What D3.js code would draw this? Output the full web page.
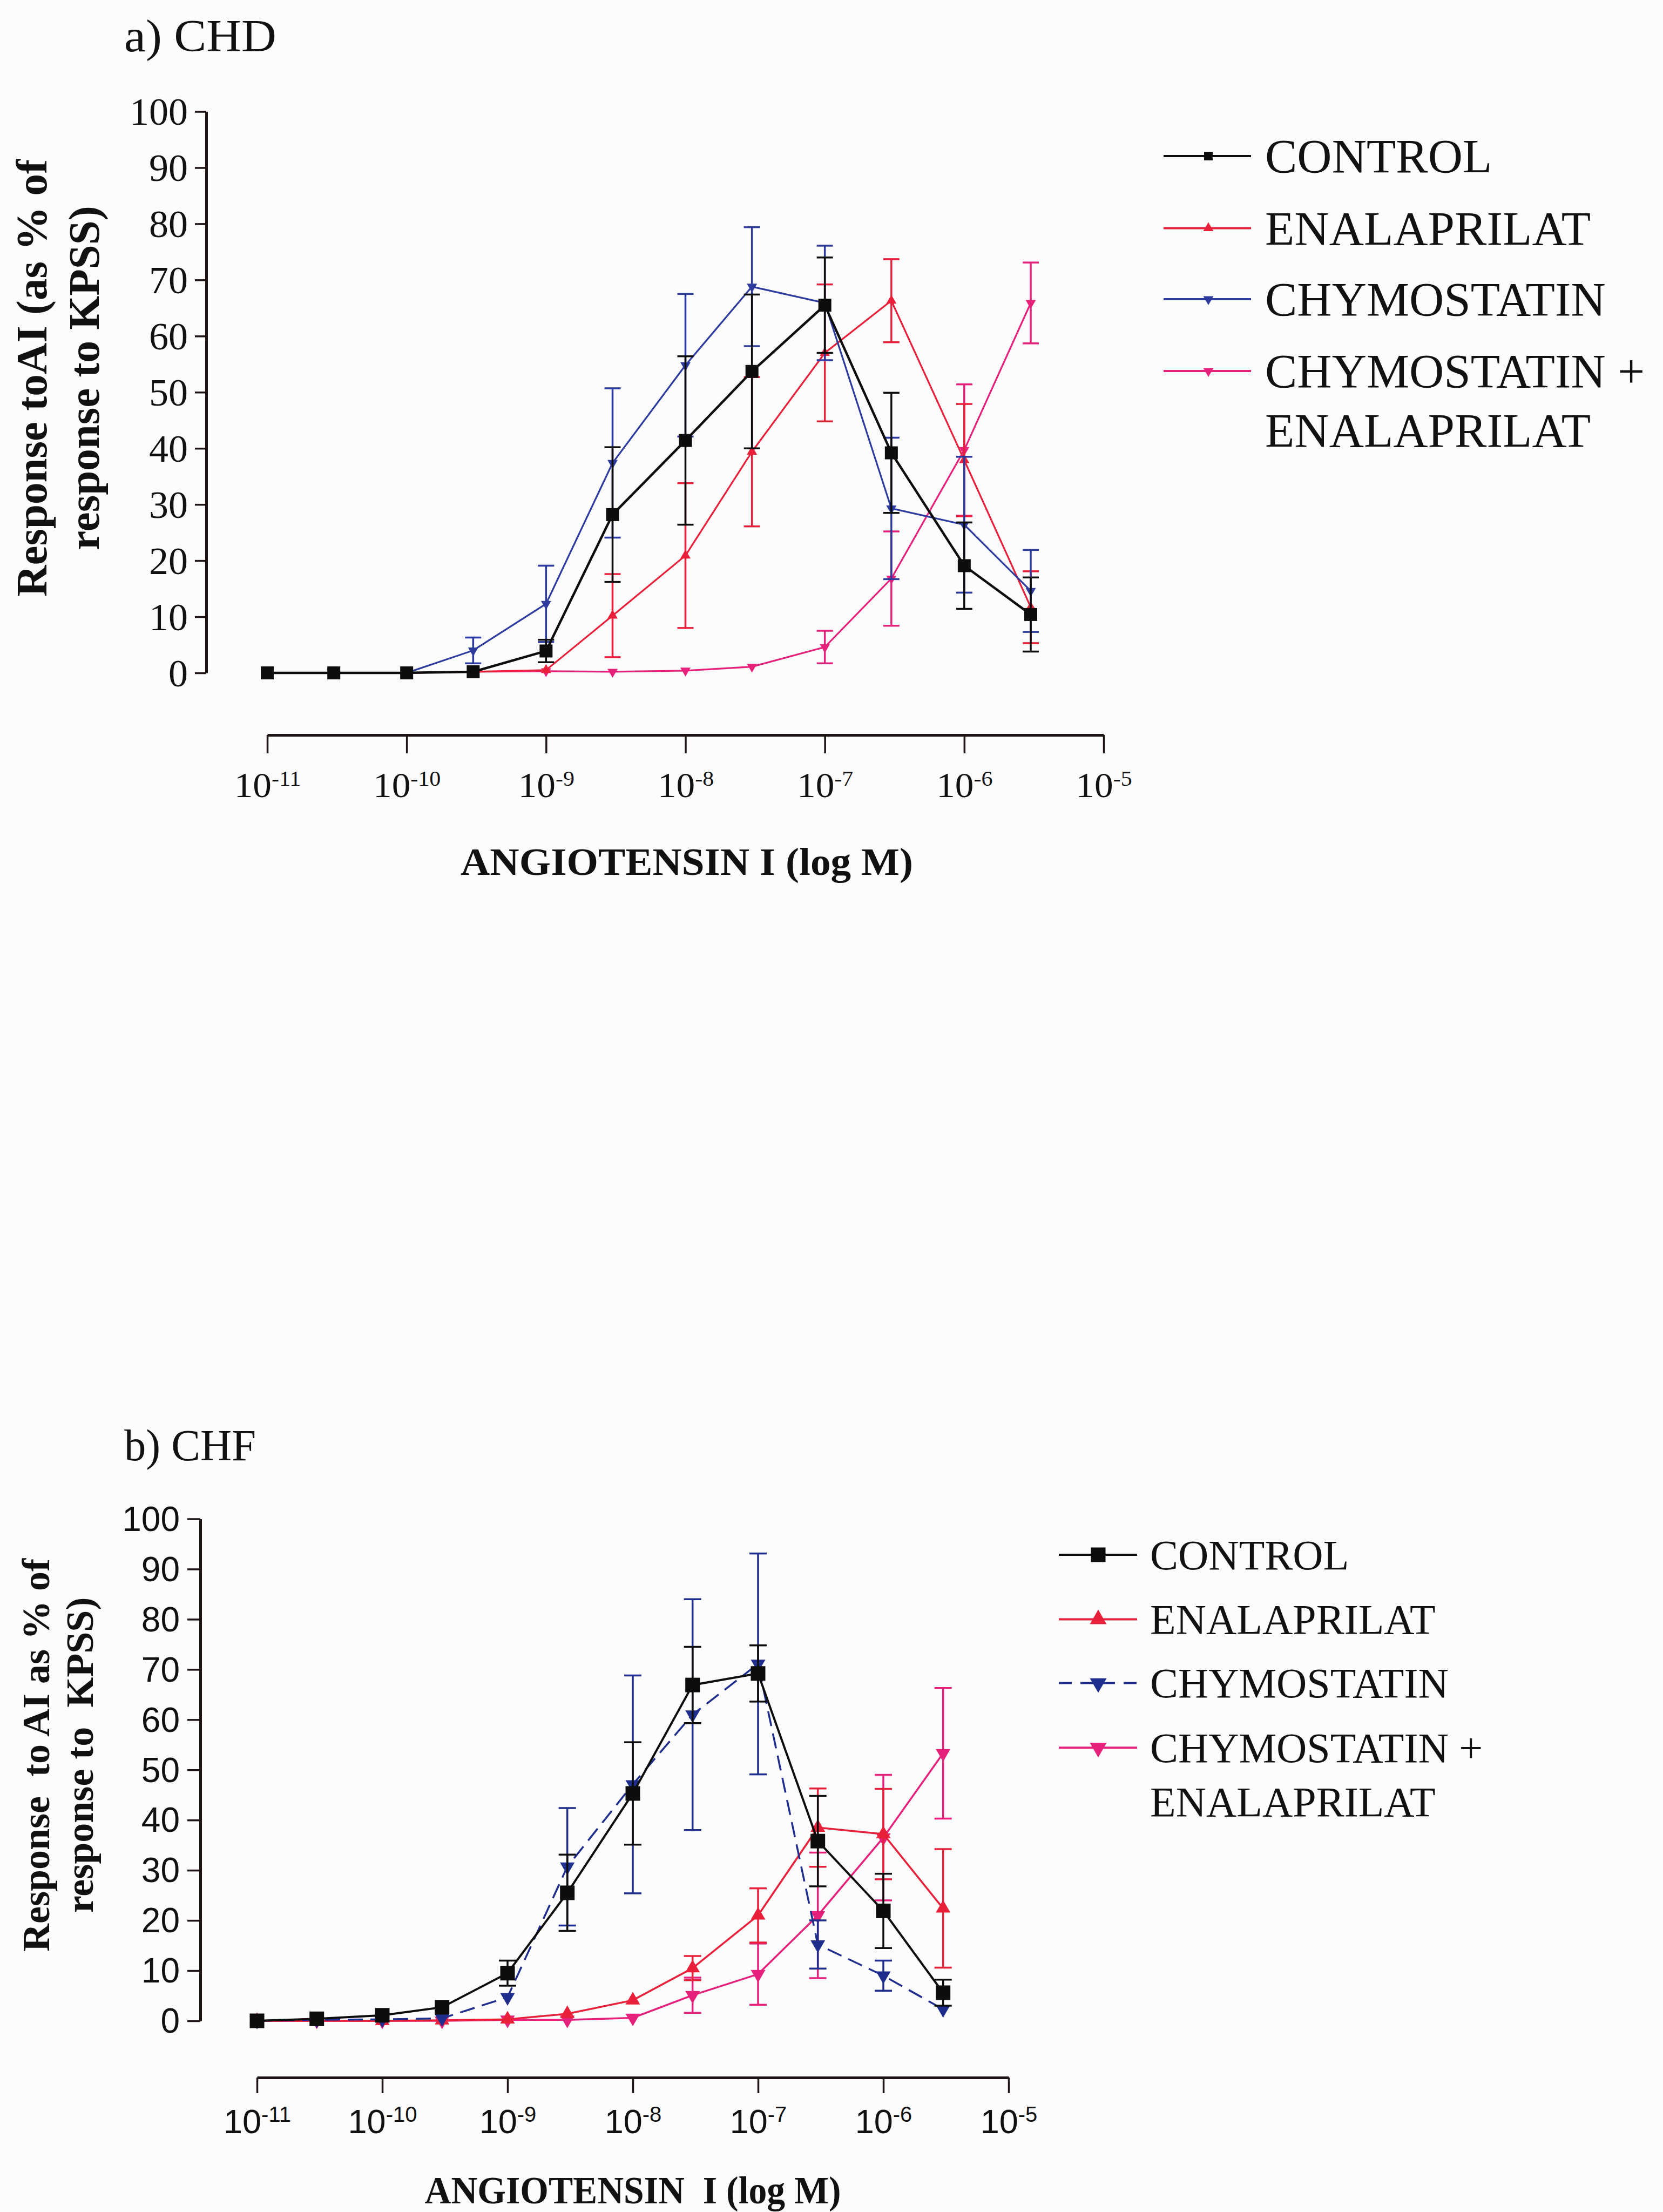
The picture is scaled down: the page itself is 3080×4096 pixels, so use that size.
<!DOCTYPE html>
<html><head><meta charset="utf-8">
<script src="https://cdn.jsdelivr.net/npm/d3@7"></script>
<style>html,body{margin:0;padding:0;background:#fff;} svg{display:block}</style>
</head><body>
<svg id="chart" width="3080" height="4096"></svg>
<script>
// ---------------- DATA ----------------
const concentrations = [1e-11, 3e-11, 1e-10, 3e-10, 1e-9, 3e-9, 1e-8, 3e-8, 1e-7, 3e-7, 1e-6, 3e-6];
const xTicks = [1e-11, 1e-10, 1e-9, 1e-8, 1e-7, 1e-6, 1e-5];
const yTicks = [0, 10, 20, 30, 40, 50, 60, 70, 80, 90, 100];
const seriesNames = ["CONTROL", "ENALAPRILAT", "CHYMOSTATIN", "CHYMOSTATIN +", "ENALAPRILAT"];

// a) CHD
const chdControl    = [0, 0, 0, 0.2, 3.9, 28.2, 41.4, 53.7, 65.5, 39.2, 19.1, 10.4];
const chdControlErr = [0, 0, 0, 0, 2.0, 12.0, 15.0, 13.7, 8.5, 10.7, 7.7, 6.6];
const chdEnal       = [0, 0, 0, 0.2, 0.5, 10.2, 20.9, 39.4, 57.0, 66.3, 37.9, 11.7];
const chdEnalErr    = [0, 0, 0, 0, 0, 7.4, 12.9, 13.3, 12.2, 7.4, 10.0, 6.4];
const chdChym       = [0, 0, 0, 4.0, 12.3, 37.4, 54.8, 68.8, 65.9, 29.3, 26.4, 14.6];
const chdChymErr    = [0, 0, 0, 2.3, 6.8, 13.3, 12.7, 10.6, 10.2, 12.6, 12.1, 7.3];
const chdCE         = [0, 0, 0, 0.2, 0.3, 0.2, 0.4, 1.1, 4.6, 16.8, 39.7, 65.9];
const chdCEErr      = [0, 0, 0, 0, 0, 0, 0, 0, 2.9, 8.4, 11.7, 7.2];

// b) CHF
const chfControl    = [0, 0.4, 1.1, 2.7, 9.5, 25.5, 45.3, 66.9, 69.2, 35.8, 21.9, 5.6];
const chfControlErr = [0, 0, 0, 0, 2.5, 7.6, 10.2, 7.6, 5.6, 9.0, 7.4, 2.6];
const chfEnal       = [0, 0, 0, 0.1, 0.3, 1.4, 4.1, 10.5, 21.0, 38.5, 37.2, 22.4];
const chfEnalErr    = [0, 0, 0, 0, 0, 0, 0, 2.4, 5.4, 7.8, 9.0, 11.8];
const chfChym       = [0, 0.2, 0.3, 0.5, 4.7, 30.7, 47.1, 61.0, 71.1, 15.2, 9.0, 2.3];
const chfChymErr    = [0, 0, 0, 0, 0, 11.7, 21.7, 23.0, 22.0, 4.8, 3.0, 0];
const chfCE         = [0, 0, 0, 0, 0.2, 0.2, 0.6, 5.1, 9.3, 21.0, 36.5, 53.3];
const chfCEErr      = [0, 0, 0, 0, 0, 0, 0, 3.5, 6.1, 12.5, 12.5, 13.0];

// ---------------- STYLE ----------------
const axisColor = "#1e1414";
const textColor = "#111111";
const serif = "'Liberation Serif', 'Times New Roman', serif";
const sans = "'Liberation Sans', Arial, sans-serif";

const svg = d3.select("#chart");
svg.append("rect").attr("width", 3080).attr("height", 4096).attr("fill", "#fcfcfd");

function markerPath(shape, w) {
  if (shape === "square") return d3.symbol(d3.symbolSquare, w * w)();
  return d3.symbol(d3.symbolTriangle, 0.433 * w * w)();
}

function drawPanel(p) {
  const g = svg.append("g");
  const x = d3.scaleLog().domain([1e-11, 1e-5]).range([p.x0, p.x1]);
  const y = d3.scaleLinear().domain([0, 100]).range([p.yBottom, p.yTop]);

  // title
  g.append("text").attr("x", p.titleX).attr("y", p.titleY)
    .attr("font-family", serif).attr("font-size", p.titleFs).attr("fill", textColor)
    .attr("textLength", p.titleLen).attr("lengthAdjust", "spacingAndGlyphs")
    .text(p.title);

  // y axis
  const ya = g.append("g").attr("transform", `translate(${p.yAxisX},0)`)
    .call(d3.axisLeft(y).tickValues(yTicks).tickSize(p.yTick).tickSizeOuter(0).tickPadding(p.yPad));
  ya.select(".domain").attr("stroke", axisColor).attr("stroke-width", p.axisW);
  ya.selectAll(".tick line").attr("stroke", axisColor).attr("stroke-width", p.tickW);
  ya.selectAll(".tick text").attr("font-family", p.tickFont).attr("font-size", p.yTickFs)
    .attr("fill", textColor).attr("dy", "0.34em");

  // x axis
  const xa = g.append("g").attr("transform", `translate(0,${p.xAxisY})`)
    .call(d3.axisBottom(x).tickValues(xTicks).tickSize(p.xTick).tickSizeOuter(0).tickFormat(() => ""));
  xa.select(".domain").attr("stroke", axisColor).attr("stroke-width", p.axisW);
  xa.selectAll(".tick line").attr("stroke", axisColor).attr("stroke-width", p.tickW);
  xa.selectAll(".tick text").each(function (d) {
    const t = d3.select(this);
    t.text(null).attr("y", p.xLabelY).attr("dy", null)
      .attr("font-family", p.tickFont).attr("font-size", p.xTickFs).attr("fill", textColor)
      .attr("transform", `scale(${p.xLabelScale},1)`);
    t.append("tspan").text("10");
    t.append("tspan").attr("font-size", p.expFs).attr("dy", -p.expRaise)
      .text(String(Math.round(Math.log10(d))));
  });

  // axis titles
  g.append("text").attr("x", p.xTitleX).attr("y", p.xTitleY).attr("text-anchor", "middle")
    .attr("font-family", serif).attr("font-weight", "bold").attr("font-size", p.xTitleFs)
    .attr("fill", textColor).attr("textLength", p.xTitleLen).attr("lengthAdjust", "spacingAndGlyphs")
    .style("white-space", "pre").text(p.xTitle);
  p.yTitle.forEach((line, i) => {
    g.append("text").attr("transform", `translate(${p.yTitleX[i]},${p.yTitleCY}) rotate(-90)`)
      .attr("text-anchor", "middle").attr("font-family", serif).attr("font-weight", "bold")
      .attr("font-size", p.yTitleFs).attr("fill", textColor).style("white-space", "pre").text(line);
  });

  // series
  const line = d3.line().x(d => x(d.c)).y(d => y(d.v));
  p.series.forEach(s => {
    const pts = concentrations.map((c, i) => ({ c, v: s.values[i], e: s.errs[i] }));
    const sg = g.append("g");
    sg.append("path").datum(pts).attr("d", line).attr("fill", "none")
      .attr("stroke", s.color).attr("stroke-width", s.lw)
      .attr("stroke-dasharray", s.dash || null).attr("stroke-linejoin", "miter");
    const eb = sg.selectAll(".eb").data(pts.filter(d => d.e > 0)).join("g")
      .attr("stroke", s.color).attr("stroke-width", p.errW);
    eb.append("line").attr("x1", d => x(d.c)).attr("x2", d => x(d.c))
      .attr("y1", d => y(d.v - d.e)).attr("y2", d => y(d.v + d.e));
    eb.append("line").attr("x1", d => x(d.c) - p.capW / 2).attr("x2", d => x(d.c) + p.capW / 2)
      .attr("y1", d => y(d.v + d.e)).attr("y2", d => y(d.v + d.e));
    eb.append("line").attr("x1", d => x(d.c) - p.capW / 2).attr("x2", d => x(d.c) + p.capW / 2)
      .attr("y1", d => y(d.v - d.e)).attr("y2", d => y(d.v - d.e));
    sg.selectAll(".mk").data(pts).join("path")
      .attr("d", markerPath(s.shape, s.shape === "square" ? p.sqW : p.triW))
      .attr("transform", d => `translate(${x(d.c)},${y(d.v)})${s.shape === "down" ? " rotate(180)" : ""}`)
      .attr("fill", s.color);
  });

  // legend
  const lg = g.append("g");
  p.legend.forEach((it, i) => {
    const ry = p.legRows[i];
    lg.append("line").attr("x1", p.legX0).attr("x2", p.legX1).attr("y1", ry).attr("y2", ry)
      .attr("stroke", it.color).attr("stroke-width", p.legLw).attr("stroke-dasharray", it.dash || null);
    lg.append("path").attr("d", markerPath(it.shape, it.shape === "square" ? p.legSq : p.legTri))
      .attr("transform", `translate(${p.legM},${ry})${it.shape === "down" ? " rotate(180)" : ""}`)
      .attr("fill", it.color);
    lg.append("text").attr("x", p.legTX).attr("y", ry + 0.34 * p.legFs)
      .attr("font-family", serif).attr("font-size", p.legFs).attr("fill", textColor).text(it.name);
    if (it.name2) {
      lg.append("text").attr("x", p.legTX).attr("y", ry + 0.34 * p.legFs + p.legLine2)
        .attr("font-family", serif).attr("font-size", p.legFs).attr("fill", textColor).text(it.name2);
    }
  });
}

const RED = "#e8203a", MAG = "#e6217c", BLK = "#0d0d0d";

drawPanel({
  title: "a) CHD", titleX: 230, titleY: 95, titleFs: 84, titleLen: 282,
  x0: 495, x1: 2044, yBottom: 1246, yTop: 206.5,
  yAxisX: 382, yTick: 21, yPad: 13, xAxisY: 1361, xTick: 34,
  axisW: 5, tickW: 3.5, tickFont: serif, yTickFs: 72,
  xTickFs: 66, expFs: 40, expRaise: 21, xLabelY: 115, xLabelScale: 1.05,
  xTitle: "ANGIOTENSIN I (log M)", xTitleX: 1272, xTitleY: 1620, xTitleFs: 72, xTitleLen: 838,
  yTitle: ["Response toAI (as % of", "response to KPSS)"], yTitleX: [86, 183], yTitleCY: 700, yTitleFs: 81,
  errW: 3.5, capW: 30, sqW: 24, triW: 19,
  series: [
    { values: chdCE, errs: chdCEErr, color: MAG, shape: "down", lw: 3.2 },
    { values: chdEnal, errs: chdEnalErr, color: RED, shape: "up", lw: 3.2 },
    { values: chdChym, errs: chdChymErr, color: "#2d3a9e", shape: "down", lw: 3.2 },
    { values: chdControl, errs: chdControlErr, color: BLK, shape: "square", lw: 4.5 }
  ],
  legend: [
    { name: seriesNames[0], color: BLK, shape: "square" },
    { name: seriesNames[1], color: RED, shape: "up" },
    { name: seriesNames[2], color: "#2d3a9e", shape: "down" },
    { name: seriesNames[3], name2: seriesNames[4], color: MAG, shape: "down" }
  ],
  legRows: [289, 422.5, 554, 687], legX0: 2155, legX1: 2317, legM: 2238, legTX: 2343,
  legFs: 89, legLine2: 110, legLw: 4, legSq: 16, legTri: 19
});

drawPanel({
  title: "b) CHF", titleX: 230, titleY: 2704, titleFs: 82, titleLen: 244,
  x0: 476, x1: 1868, yBottom: 3742, yTop: 2812.5,
  yAxisX: 371, yTick: 24, yPad: 14, xAxisY: 3847, xTick: 29,
  axisW: 5, tickW: 3.5, tickFont: sans, yTickFs: 64,
  xTickFs: 63, expFs: 40, expRaise: 21, xLabelY: 103, xLabelScale: 1.0,
  xTitle: "ANGIOTENSIN  I (log M)", xTitleX: 1172, xTitleY: 4080, xTitleFs: 72, xTitleLen: 771,
  yTitle: ["Response  to AI as % of", "response to  KPSS)"], yTitleX: [91, 172], yTitleCY: 3250, yTitleFs: 72,
  errW: 3.5, capW: 32, sqW: 27, triW: 27,
  series: [
    { values: chfCE, errs: chfCEErr, color: MAG, shape: "down", lw: 3.5 },
    { values: chfEnal, errs: chfEnalErr, color: RED, shape: "up", lw: 3.5 },
    { values: chfChym, errs: chfChymErr, color: "#1f2d8c", shape: "down", lw: 3.5, dash: "28,14" },
    { values: chfControl, errs: chfControlErr, color: BLK, shape: "square", lw: 4 }
  ],
  legend: [
    { name: seriesNames[0], color: BLK, shape: "square" },
    { name: seriesNames[1], color: RED, shape: "up" },
    { name: seriesNames[2], color: "#1f2d8c", shape: "down", dash: "24,16" },
    { name: seriesNames[3], name2: seriesNames[4], color: MAG, shape: "down" }
  ],
  legRows: [2879, 2998.5, 3116.6, 3236.3], legX0: 1961, legX1: 2106, legM: 2034, legTX: 2130,
  legFs: 78, legLine2: 100, legLw: 4, legSq: 27, legTri: 31
});
</script>
</body></html>
